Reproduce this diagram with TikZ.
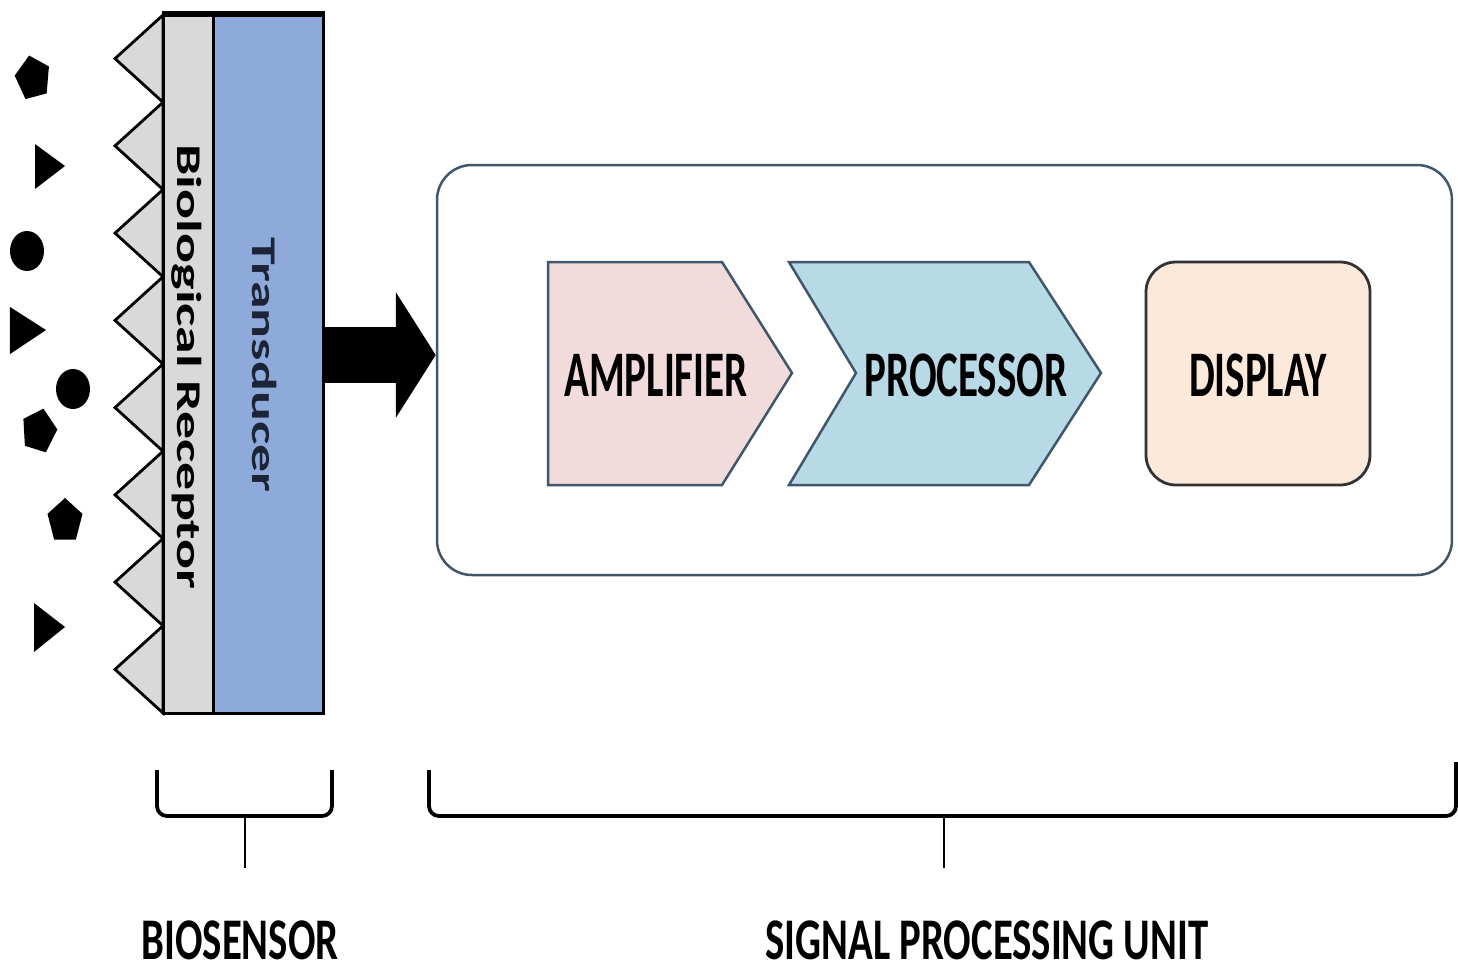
\documentclass[tikz,border=0pt]{standalone}
\usepackage{fontspec}
\setmainfont{Carlito}
\usetikzlibrary{arrows.meta,shapes.geometric}

\definecolor{recgray}{HTML}{D9D9D9}
\definecolor{transblue}{HTML}{8EAADB}
\definecolor{amppink}{HTML}{F2DCDB}
\definecolor{procblue}{HTML}{B7DAE6}
\definecolor{dispbeige}{HTML}{FCE9DA}
\definecolor{boxedge}{HTML}{3F566B}
\definecolor{navytext}{HTML}{1C2438}

\tikzset{
  strip/.style={draw=black, line width=0.3mm, minimum height=69.8mm, inner sep=0pt},
  tooth/.style={fill=recgray, draw=black, line width=0.28mm},
  vlabel/.style={rotate=-90, yscale=0.62, inner sep=0pt, font=\fontsize{15.9}{16}\selectfont\bfseries},
  blocklabel/.style={xscale=0.63, inner sep=0pt, font=\fontsize{18.5}{19}\selectfont\bfseries},
  unitlabel/.style={xscale=0.69, inner sep=0pt, font=\fontsize{16.8}{17}\selectfont\bfseries},
  bracket/.style={line width=0.38mm, rounded corners=1mm},
  analyte/.style={fill=black, inner sep=0pt, regular polygon, regular polygon sides=5, minimum size=4.6mm, xscale=0.8}
}

\begin{document}
\begin{tikzpicture}[x=0.1mm, y=-0.1mm]
  \fill[white] (0,0) rectangle (1458,974);
  \useasboundingbox (0,0) rectangle (1458,974);

  % Analytes
  \node[analyte, rotate=12] (p_1) at (33,78) {};
  \node[analyte, rotate=-14] (p_2) at (39,431) {};
  \node[analyte] (p_3) at (65,521) {};
  \fill[black] (27,251) ellipse [x radius=1.7mm, y radius=2mm];
  \fill[black] (73,389) ellipse [x radius=1.7mm, y radius=2mm];
  \fill[black] (35,144) -- (65,166) -- (35,189) -- cycle;
  \fill[black] (10,307) -- (46,330) -- (10,354) -- cycle;
  \fill[black] (34,603) -- (65,627) -- (34,652) -- cycle;

  % Receptor teeth and the two strips
  \foreach \i in {0,...,7}
    \filldraw[tooth] (163,{15+87.25*\i}) -- (115,{58.6+87.25*\i}) -- (163,{102.25+87.25*\i}) -- cycle;
  \node[strip, fill=recgray, minimum width=5mm] (rec) at (188,364) {};
  \node[strip, fill=transblue, minimum width=11mm] (tr) at (268,364) {};
  \draw[line width=0.6mm] (rec.north west) -- (tr.north east);
  \node[vlabel] (rec_lbl) at (187,367) {Biological Receptor};
  \node[vlabel, text=navytext] (tr_lbl) at (265,365) {Transducer};

  % Signal processing unit
  \node[draw=boxedge, line width=0.25mm, rounded corners=3.5mm,
        minimum width=101.5mm, minimum height=41mm] (spu) at (944.5,370) {};
  \draw[line width=5.6mm, -{Triangle[length=4mm, width=12.4mm]}]
        (tr.east |- 0,355) -- (spu.west |- 0,355);

  \filldraw[fill=amppink, draw=boxedge, line width=0.25mm]
        (548,262) -- (722,262) -- (792,373) -- (722,485) -- (548,485) -- cycle;
  \filldraw[fill=procblue, draw=boxedge, line width=0.25mm]
        (789,262) -- (1029,262) -- (1101,373) -- (1029,485) -- (789,485) -- (856,373) -- cycle;
  \filldraw[fill=dispbeige, draw=black!80, line width=0.28mm, rounded corners=3mm]
        (1146,262) rectangle (1370,485);
  \node[blocklabel] (amp) at (656,375) {AMPLIFIER};
  \node[blocklabel] (proc) at (966,375) {PROCESSOR};
  \node[blocklabel] (disp) at (1258,375) {DISPLAY};

  % Brackets
  \draw[bracket] (157,770) -- (157,816) -- (332,816) -- (332,770);
  \draw[line width=0.2mm] (245,816) -- (245,868);
  \draw[bracket] (429,770) -- (429,816) -- (1456,816) -- (1456,762);
  \draw[line width=0.2mm] (944,816) -- (944,868);

  \node[unitlabel] (bio_lbl) at (240,940) {BIOSENSOR};
  \node[unitlabel] (spu_lbl) at (987,940) {SIGNAL PROCESSING UNIT};
\end{tikzpicture}
\end{document}
